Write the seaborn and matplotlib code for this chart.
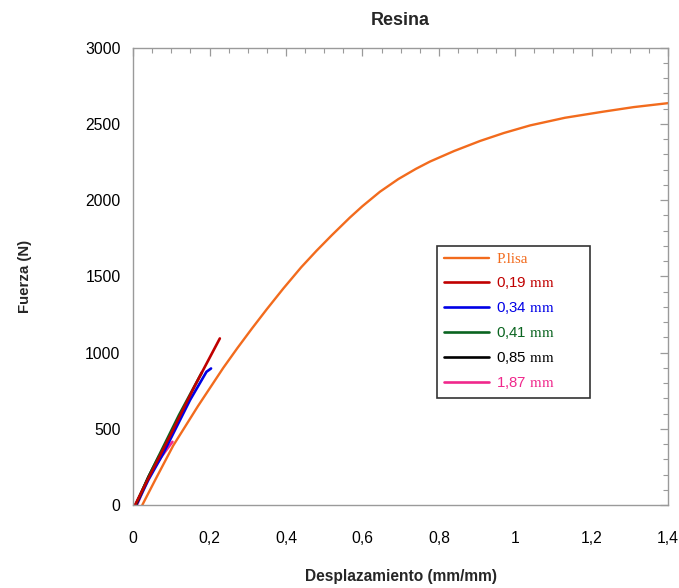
import numpy as np
import pandas as pd
import matplotlib
matplotlib.use("Agg")
import matplotlib.pyplot as plt
import seaborn as sns
from matplotlib.ticker import MultipleLocator, FuncFormatter

# ---- data ----
plisa_x = [0.024, 0.06, 0.105, 0.17, 0.236, 0.273, 0.311, 0.35, 0.393, 0.44, 0.48, 0.52,
           0.567, 0.60, 0.646, 0.694, 0.74, 0.777, 0.84, 0.908, 0.97, 1.039, 1.13, 1.23, 1.31, 1.40]
plisa_y = [0, 175, 390, 650, 900, 1030, 1158, 1285, 1420, 1560, 1668, 1770,
           1885, 1960, 2055, 2138, 2205, 2253, 2322, 2388, 2440, 2490, 2540, 2580, 2610, 2636]

r019_x = [0.005, 0.04, 0.10, 0.16, 0.227]
r019_y = [0, 175, 470, 775, 1093]

r034_x = [0.008, 0.04, 0.079, 0.149, 0.192, 0.204]
r034_y = [0, 165, 339, 689, 874, 896]

r041_x = [0.006, 0.05, 0.12, 0.18]
r041_y = [0, 235, 590, 870]

r085_x = [0.007, 0.04, 0.068]
r085_y = [0, 185, 320]

r187_x = [0.010, 0.044, 0.075, 0.103]
r187_y = [0, 200, 320, 415]

labels = ["P.lisa", r"0,19 $\mathrm{mm}$", r"0,34 $\mathrm{mm}$",
          r"0,41 $\mathrm{mm}$", r"0,85 $\mathrm{mm}$", r"1,87 $\mathrm{mm}$"]
colors = ["#F26B1D", "#C00000", "#0000E6", "#0A6420", "#000000", "#F0288C"]

series = [(plisa_x, plisa_y), (r019_x, r019_y), (r034_x, r034_y),
          (r041_x, r041_y), (r085_x, r085_y), (r187_x, r187_y)]

# ---- plot ----
sns.set_style("white")
plt.rcParams["font.family"] = ["Liberation Sans", "DejaVu Sans"]
plt.rcParams["mathtext.fontset"] = "stix"

fig = plt.figure(figsize=(6.79, 5.88), dpi=100)
ax = fig.add_axes([0.196, 0.141, 0.788, 0.778])

draw_order = [0, 5, 2, 4, 3, 1]
handles = {}
for i in draw_order:
    xs, ys = series[i]
    df = pd.DataFrame({"x": xs, "y": ys})
    sns.lineplot(data=df, x="x", y="y", ax=ax, color=colors[i], sort=False,
                 estimator=None, linewidth=1.9 if i else 1.7, label=labels[i], legend=False)
    handles[i] = ax.get_lines()[-1]

ax.set_xlim(0, 1.4)
ax.set_ylim(0, 3000)
ax.xaxis.set_major_locator(MultipleLocator(0.2))
ax.xaxis.set_minor_locator(MultipleLocator(0.05))
ax.yaxis.set_major_locator(MultipleLocator(500))
ax.yaxis.set_minor_locator(MultipleLocator(100))

def fmt_x(v, pos):
    s = f"{v:.1f}".rstrip("0").rstrip(".")
    return s.replace(".", ",")

ax.xaxis.set_major_formatter(FuncFormatter(fmt_x))
ax.yaxis.set_major_formatter(FuncFormatter(lambda v, p: f"{int(round(v))}"))

for sp in ax.spines.values():
    sp.set_color("#9A9A9A")
    sp.set_linewidth(1.0)

ax.tick_params(which="both", direction="in", top=True, right=True, colors="#9A9A9A",
               labelcolor="black", labelsize=11.3)
ax.tick_params(which="major", length=6, width=0.9)
ax.tick_params(which="minor", length=3.5, width=0.8)
ax.tick_params(axis="x", which="major", pad=19)
ax.tick_params(axis="y", which="major", pad=9)

ax.set_xlabel("Desplazamiento (mm/mm)", fontsize=11.2, fontweight="bold", labelpad=16)
ax.set_ylabel("Fuerza (N)", fontsize=10.8, fontweight="bold", labelpad=38)
ax.set_title("Resina", fontsize=12.9, fontweight="bold", pad=16)

leg = ax.legend([handles[i] for i in range(6)], labels,
                loc="upper left", bbox_to_anchor=(0.6436, 0.30, 0.2254, 0.2816),
                bbox_transform=fig.transFigure, mode="expand", frameon=True, fancybox=False,
                edgecolor="black", fontsize=10.8, handlelength=3.0,
                labelspacing=0.6, borderpad=0.45, handletextpad=0.5,
                borderaxespad=0)
leg.get_frame().set_linewidth(1.2)
for txt, c in zip(leg.get_texts(), colors):
    txt.set_color(c)
leg.get_texts()[0].set_fontfamily("Liberation Serif")

fig.savefig("out.png", dpi=100)
